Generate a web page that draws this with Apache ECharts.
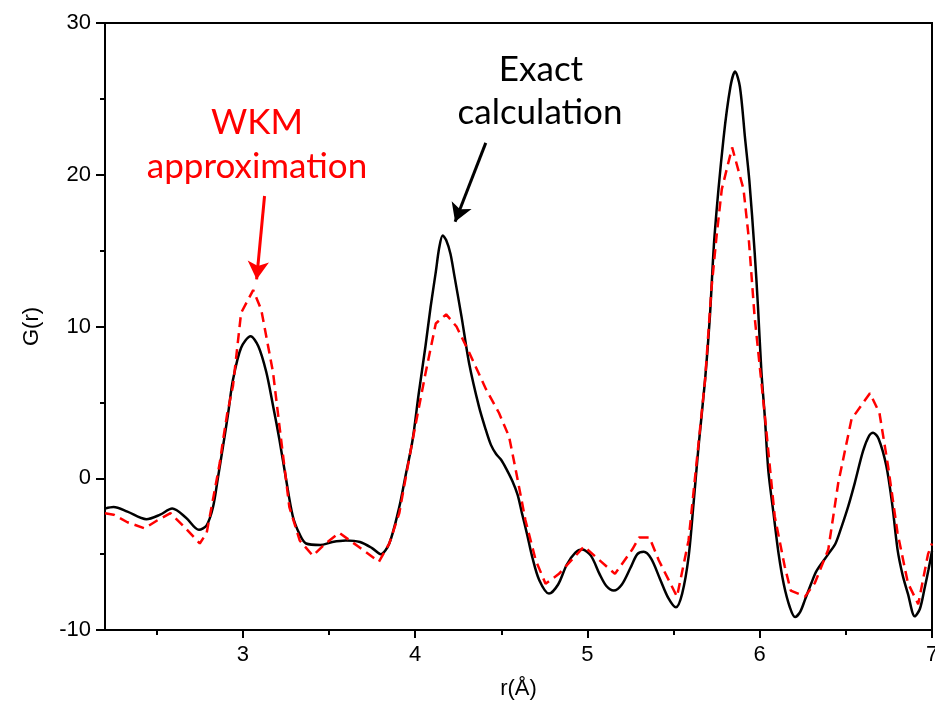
<!DOCTYPE html>
<html>
<head>
<meta charset="utf-8">
<script src="https://cdn.jsdelivr.net/npm/echarts@6/dist/echarts.min.js"></script>
<style>
html,body{margin:0;padding:0;background:#fff;}
#chart{width:935px;height:711px;}
</style>
</head>
<body>
<div id="chart"></div>
<script>
// Exact calculation (solid black)
const exactR = [2.20,2.25,2.33,2.44,2.52,2.59,2.67,2.745,2.79,2.827,2.855,2.885,2.915,2.943,2.99,3.045,3.09,3.136,3.175,3.213,3.25,3.29,3.33,3.367,3.45,3.52,3.598,3.68,3.75,3.80,3.85,3.908,3.945,3.985,4.02,4.06,4.09,4.12,4.14,4.16,4.18,4.205,4.227,4.27,4.313,4.371,4.41,4.44,4.47,4.50,4.53,4.565,4.595,4.62,4.65,4.68,4.72,4.777,4.83,4.88,4.93,4.97,5.02,5.07,5.11,5.153,5.20,5.25,5.29,5.327,5.37,5.42,5.47,5.514,5.55,5.587,5.615,5.645,5.683,5.71,5.738,5.79,5.83,5.857,5.885,5.915,5.94,5.97,5.99,6.01,6.03,6.05,6.08,6.11,6.14,6.175,6.205,6.235,6.263,6.30,6.33,6.398,6.44,6.475,6.515,6.552,6.60,6.635,6.658,6.69,6.735,6.77,6.80,6.83,6.86,6.90,6.93,6.958,6.98,7.00];
const exactG = [-2.0,-1.9,-2.2,-2.7,-2.4,-2.0,-2.6,-3.4,-3.1,-1.9,0.0,2.1,4.3,6.5,8.6,9.36,8.7,7.0,4.8,2.5,0.0,-2.5,-3.7,-4.3,-4.4,-4.2,-4.1,-4.2,-4.6,-5.0,-4.3,-1.9,0.2,2.5,5.5,8.7,11.3,13.6,15.2,16.0,15.7,14.8,13.4,10.6,7.6,4.7,3.2,2.2,1.6,1.2,0.6,-0.2,-1.1,-2.3,-3.7,-5.2,-6.7,-7.6,-7.0,-5.7,-4.9,-4.7,-5.1,-6.3,-7.1,-7.4,-7.0,-5.9,-5.0,-4.85,-5.3,-6.6,-7.9,-8.5,-7.6,-5.2,-1.8,2.1,6.5,10.5,16.0,22.4,25.8,26.8,25.8,22.4,19.6,15.0,11.3,7.0,4.0,0.5,-2.3,-5.0,-7.0,-8.5,-9.15,-8.8,-8.0,-6.9,-6.1,-5.0,-4.3,-3.2,-1.8,-0.3,1.8,2.8,3.0,2.6,0.8,-1.8,-4.7,-6.4,-7.6,-9.1,-8.6,-7.2,-6.0,-4.8];

// WKM approximation (dashed red)
const wkmR = [2.20,2.25,2.33,2.43,2.50,2.58,2.66,2.75,2.79,2.83,2.866,2.885,2.91,2.943,2.99,3.06,3.107,3.175,3.213,3.27,3.33,3.406,3.48,3.56,3.67,3.79,3.85,3.908,3.985,4.06,4.12,4.18,4.24,4.313,4.41,4.487,4.545,4.584,4.64,4.70,4.757,4.835,4.98,5.16,5.26,5.30,5.36,5.414,5.52,5.587,5.645,5.683,5.72,5.75,5.78,5.84,5.906,5.935,5.97,6.03,6.087,6.145,6.18,6.263,6.32,6.398,6.456,6.533,6.64,6.695,6.745,6.80,6.86,6.92,6.977,7.00];
const wkmG = [-2.3,-2.4,-2.9,-3.3,-2.8,-2.3,-3.2,-4.3,-3.6,-1.2,1.0,2.5,4.3,6.1,10.9,12.4,11.1,7.0,3.4,-1.9,-4.1,-5.1,-4.3,-3.6,-4.5,-5.5,-4.3,-2.3,2.5,6.9,10.2,10.8,10.0,8.3,5.9,4.3,2.75,0.55,-2.75,-5.4,-6.95,-6.3,-4.5,-6.3,-4.7,-3.9,-3.9,-5.4,-7.8,-4.1,2.3,6.5,12.5,16.0,19.05,21.8,19.05,16.0,10.7,4.1,-2.5,-5.8,-7.4,-7.8,-6.9,-4.7,-0.3,3.9,5.6,4.3,0.8,-3.6,-6.9,-8.3,-5.0,-4.3];

// Axis settings and tick labels
const xMin = 2.2, xMax = 7;
const xMajorTicks = [3, 4, 5, 6, 7];
const xMinorTicks = [2.5, 3.5, 4.5, 5.5, 6.5];
const yMin = -10, yMax = 30, yStep = 10;

// Annotation arrows (data coordinates)
const wkmArrow = [[3.126, 18.6], [3.08, 13.1]];
const exactArrow = [[4.41, 22.1], [4.232, 16.9]];

const zip = (a, b) => a.map((v, i) => [v, b[i]]);

const chart = echarts.init(document.getElementById('chart'), null, {renderer: 'canvas'});
const axisFont = {fontFamily: "'Liberation Sans', Arial, sans-serif", fontSize: 22, color: '#000'};
const annFont = "35px Lato, 'Open Sans', sans-serif";
chart.setOption({
  animation: false,
  backgroundColor: '#fff',
  grid: {left: 105, right: 3, top: 23, bottom: 81, show: true, borderColor: '#000', borderWidth: 2, backgroundColor: 'transparent', outerBoundsMode: 'none', containLabel: false},
  xAxis: [{
    type: 'value', min: xMin, max: xMax,
    name: 'r(Å)', nameLocation: 'middle', nameGap: 48,
    nameTextStyle: axisFont,
    axisLine: {show: true, onZero: false, lineStyle: {color: '#000', width: 2}},
    axisTick: {show: true, inside: false, length: 8, customValues: xMajorTicks, lineStyle: {color: '#000', width: 2}},
    axisLabel: Object.assign({margin: 14, customValues: xMajorTicks, showMinLabel: true, showMaxLabel: true, hideOverlap: false}, axisFont),
    splitLine: {show: false}
  }, {
    type: 'value', min: xMin, max: xMax, position: 'bottom',
    axisLine: {show: false, onZero: false},
    axisTick: {show: true, inside: false, length: 5, customValues: xMinorTicks, lineStyle: {color: '#000', width: 2}},
    axisLabel: {show: false},
    splitLine: {show: false}
  }],
  yAxis: {
    type: 'value', min: yMin, max: yMax, interval: yStep,
    name: 'G(r)', nameLocation: 'middle', nameGap: 62,
    nameTextStyle: axisFont,
    axisLine: {show: true, onZero: false, lineStyle: {color: '#000', width: 2}},
    axisTick: {show: true, inside: false, length: 9, lineStyle: {color: '#000', width: 2}},
    minorTick: {show: true, splitNumber: 2, length: 5, lineStyle: {color: '#000', width: 2}},
    axisLabel: Object.assign({margin: 14}, axisFont),
    splitLine: {show: false}
  },
  series: [
    {
      name: 'Exact calculation', type: 'line', data: zip(exactR, exactG),
      smooth: 0.3, showSymbol: false, symbol: 'none',
      lineStyle: {color: '#000', width: 2.5}, z: 3,
      markLine: {
        silent: true, symbol: ['none', 'arrow'], symbolSize: [16, 18],
        label: {show: false},
        lineStyle: {color: '#000', width: 3, type: 'solid'},
        data: [[{coord: exactArrow[0]}, {coord: exactArrow[1]}]]
      }
    },
    {
      name: 'WKM approximation', type: 'line', data: zip(wkmR, wkmG),
      smooth: false, showSymbol: false, symbol: 'none',
      lineStyle: {color: '#ff0000', width: 2.5, type: [10, 6]}, z: 4,
      markLine: {
        silent: true, symbol: ['none', 'arrow'], symbolSize: [16, 18],
        label: {show: false},
        lineStyle: {color: '#ff0000', width: 3, type: 'solid'},
        data: [[{coord: wkmArrow[0]}, {coord: wkmArrow[1]}]]
      }
    }
  ],
  graphic: [
    {type: 'text', x: 257, y: 123, style: {text: 'WKM', fill: '#ff0000', font: annFont, textAlign: 'center', textVerticalAlign: 'middle'}},
    {type: 'text', x: 257, y: 167, style: {text: 'approximation', fill: '#ff0000', font: annFont, textAlign: 'center', textVerticalAlign: 'middle'}},
    {type: 'text', x: 541, y: 70, style: {text: 'Exact', fill: '#000', font: annFont, textAlign: 'center', textVerticalAlign: 'middle'}},
    {type: 'text', x: 540, y: 113, style: {text: 'calculation', fill: '#000', font: annFont, textAlign: 'center', textVerticalAlign: 'middle'}}
  ]
});
</script>
</body>
</html>
